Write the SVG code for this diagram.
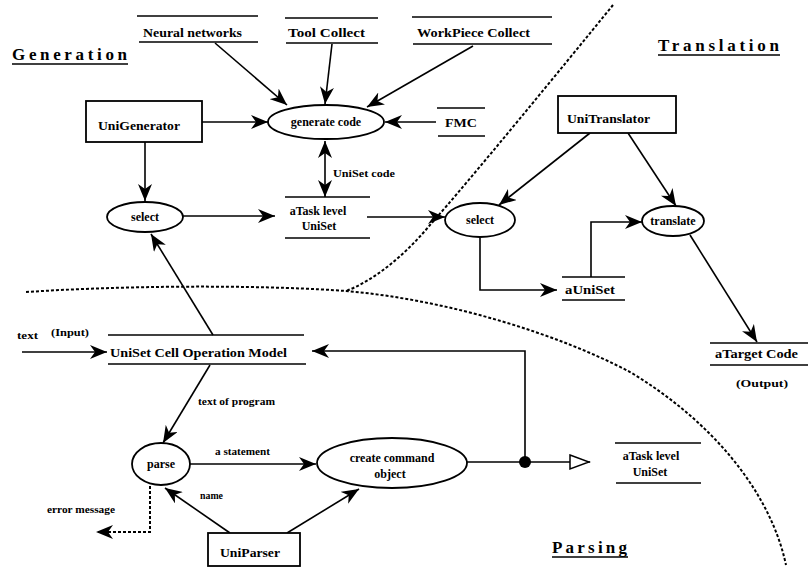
<svg xmlns="http://www.w3.org/2000/svg" width="812" height="569" viewBox="0 0 812 569">
  <style>
    .lbl { font-family: "Liberation Serif", "Times New Roman", serif; font-weight: bold; font-size: 12px; fill: #000; }
    .sm { font-family: "Liberation Serif", "Times New Roman", serif; font-weight: bold; font-size: 10px; fill: #000; }
    .title { font-family: "Liberation Serif", "Times New Roman", serif; font-weight: bold; font-size: 17px; fill: #000; letter-spacing: 1px; }
    .ln { stroke: #000; stroke-width: 1.6; fill: none; }
    .box { stroke: #000; stroke-width: 1.8; fill: #fff; }
    .proc { stroke: #000; stroke-width: 1.8; fill: #fff; }
    .store { stroke: #000; stroke-width: 1.6; }
    .arr { stroke: #000; stroke-width: 1.6; fill: none; marker-end: url(#ah); }
    .bound { stroke: #000; stroke-width: 2; fill: none; stroke-dasharray: 3 2; }
  </style>
  <defs>
    <marker id="ah" markerUnits="userSpaceOnUse" markerWidth="18" markerHeight="14" refX="17" refY="7" orient="auto-start-reverse">
      <path d="M0,0 L17,7 L0,14 L5,7 z" fill="#000"/>
    </marker>
    <marker id="hollow" markerUnits="userSpaceOnUse" markerWidth="22" markerHeight="18" refX="21" refY="9" orient="auto">
      <path d="M1,2 L20,9 L1,16 z" fill="#fff" stroke="#000" stroke-width="1.5"/>
    </marker>
  </defs>
  <rect width="812" height="569" fill="#fff"/>

  <!-- region boundaries -->
  <g id="boundaries">
    <path class="bound" d="M613,5 C560,70 470,180 430,225 C405,255 375,280 346,291"/>
    <path class="bound" d="M26,292 C150,284 280,286 346,291 C450,300 560,335 630,372 C710,420 770,490 786,565"/>
  </g>

  <!-- region titles -->
  <g id="titles">
    <text class="title" x="12" y="60" textLength="116">Generation</text>
    <line class="store" x1="12" y1="64" x2="128" y2="64"/>
    <text class="title" x="658" y="51" textLength="122">Translation</text>
    <line class="store" x1="658" y1="55" x2="780" y2="55"/>
    <text class="title" x="552" y="553" textLength="76">Parsing</text>
    <line class="store" x1="552" y1="557" x2="628" y2="557"/>
  </g>

  <!-- connectors -->
  <g id="connectors">
    <line class="arr" x1="215" y1="43" x2="287" y2="105"/>
    <line class="arr" x1="332" y1="44" x2="325" y2="104"/>
    <line class="arr" x1="473" y1="46" x2="367" y2="107"/>
    <line class="arr" x1="436" y1="122" x2="385" y2="122"/>
    <line class="arr" x1="202" y1="122" x2="268" y2="122"/>
    <line class="arr" x1="145" y1="142" x2="145" y2="201"/>
    <line class="ln" x1="325" y1="141" x2="325" y2="197" marker-start="url(#ah)" marker-end="url(#ah)"/>
    <line class="arr" x1="183" y1="216" x2="275" y2="216"/>
    <line class="arr" x1="367" y1="217" x2="445" y2="217"/>
    <line class="arr" x1="590" y1="133" x2="499" y2="205"/>
    <line class="arr" x1="628" y1="133" x2="676" y2="206"/>
    <polyline class="arr" points="480,238 480,290 557,290"/>
    <polyline class="arr" points="591,277 591,222 642,222"/>
    <line class="arr" x1="690" y1="235" x2="757" y2="342"/>
    <line class="arr" x1="22" y1="352" x2="107" y2="352"/>
    <line class="arr" x1="213" y1="335" x2="151" y2="234"/>
    <line class="arr" x1="210" y1="365" x2="163" y2="443"/>
    <polyline class="arr" points="525,462 525,351 312,351"/>
    <line class="arr" x1="190" y1="464" x2="316" y2="464"/>
    <line class="arr" x1="230" y1="533" x2="165" y2="488"/>
    <line class="arr" x1="287" y1="533" x2="359" y2="489"/>
    <polyline class="bound" points="150,486 150,532 96,532" stroke-width="1.6" stroke-dasharray="2 2" marker-end="url(#ah)"/>
    <line class="ln" x1="467" y1="462" x2="590" y2="462" marker-end="url(#hollow)"/>
    <circle cx="525" cy="462" r="6" fill="#000"/>
    <!-- connector labels -->
    <text class="sm" x="333" y="177" textLength="62" lengthAdjust="spacingAndGlyphs">UniSet code</text>
    <text class="sm" x="17" y="339" font-size="11" textLength="21" lengthAdjust="spacingAndGlyphs">text</text>
    <text class="sm" x="51" y="336" textLength="38" lengthAdjust="spacingAndGlyphs">(Input)</text>
    <text class="sm" x="198" y="405" textLength="77" lengthAdjust="spacingAndGlyphs">text of program</text>
    <text class="sm" x="215" y="455" textLength="55" lengthAdjust="spacingAndGlyphs">a statement</text>
    <text class="sm" x="200" y="499" textLength="23" lengthAdjust="spacingAndGlyphs">name</text>
    <text class="sm" x="47" y="513" textLength="68" lengthAdjust="spacingAndGlyphs">error message</text>
  </g>

  <!-- data stores -->
  <g id="neural-networks">
    <line class="store" x1="137" y1="16" x2="258" y2="16"/>
    <line class="store" x1="139" y1="42" x2="258" y2="42"/>
    <text class="lbl" x="143" y="37" textLength="99" lengthAdjust="spacingAndGlyphs">Neural networks</text>
  </g>
  <g id="tool-collect">
    <line class="store" x1="285" y1="18" x2="378" y2="18"/>
    <line class="store" x1="286" y1="43" x2="378" y2="43"/>
    <text class="lbl" x="288" y="37" textLength="77" lengthAdjust="spacingAndGlyphs">Tool Collect</text>
  </g>
  <g id="workpiece-collect">
    <line class="store" x1="412" y1="17" x2="552" y2="17"/>
    <line class="store" x1="413" y1="44" x2="552" y2="44"/>
    <text class="lbl" x="417" y="37" textLength="113" lengthAdjust="spacingAndGlyphs">WorkPiece Collect</text>
  </g>
  <g id="fmc">
    <line class="store" x1="437" y1="108" x2="485" y2="108"/>
    <line class="store" x1="438" y1="136" x2="485" y2="136"/>
    <text class="lbl" x="445" y="127" font-size="13" textLength="32" lengthAdjust="spacingAndGlyphs">FMC</text>
  </g>
  <g id="task-uniset-gen">
    <line class="store" x1="285" y1="197" x2="370" y2="197"/>
    <line class="store" x1="285" y1="238" x2="370" y2="238"/>
    <text class="lbl" x="318" y="215" text-anchor="middle" font-size="11">aTask level</text>
    <text class="lbl" x="319" y="230" text-anchor="middle" font-size="11">UniSet</text>
  </g>
  <g id="a-uniset">
    <line class="store" x1="562" y1="277" x2="625" y2="277"/>
    <line class="store" x1="562" y1="300" x2="625" y2="300"/>
    <text class="lbl" x="565" y="294" font-size="12" textLength="50" lengthAdjust="spacingAndGlyphs">aUniSet</text>
  </g>
  <g id="target-code">
    <line class="store" x1="710" y1="343" x2="808" y2="343"/>
    <line class="store" x1="710" y1="365" x2="808" y2="365"/>
    <text class="lbl" x="715" y="358" textLength="83" lengthAdjust="spacingAndGlyphs">aTarget Code</text>
    <text class="sm" x="736" y="387" textLength="52" lengthAdjust="spacingAndGlyphs">(Output)</text>
  </g>
  <g id="cell-operation-model">
    <line class="store" x1="108" y1="335" x2="304" y2="335"/>
    <line class="store" x1="108" y1="364" x2="306" y2="364"/>
    <text class="lbl" x="110" y="357" textLength="177" lengthAdjust="spacingAndGlyphs">UniSet Cell Operation Model</text>
  </g>
  <g id="task-uniset-parse">
    <line class="store" x1="615" y1="443" x2="701" y2="443"/>
    <line class="store" x1="616" y1="483" x2="701" y2="483"/>
    <text class="lbl" x="651" y="460" text-anchor="middle" font-size="11">aTask level</text>
    <text class="lbl" x="650" y="476" text-anchor="middle" font-size="11">UniSet</text>
  </g>

  <!-- objects -->
  <g id="unigenerator">
    <rect class="box" x="86" y="101" width="116" height="41"/>
    <text class="lbl" x="98" y="130" textLength="82" lengthAdjust="spacingAndGlyphs">UniGenerator</text>
  </g>
  <g id="unitranslator">
    <rect class="box" x="558" y="96" width="118" height="37"/>
    <text class="lbl" x="567" y="123" textLength="83" lengthAdjust="spacingAndGlyphs">UniTranslator</text>
  </g>
  <g id="uniparser">
    <rect class="box" x="208" y="533" width="92" height="33"/>
    <text class="lbl" x="220" y="557" textLength="60" lengthAdjust="spacingAndGlyphs">UniParser</text>
  </g>

  <!-- processes -->
  <g id="generate-code">
    <ellipse class="proc" cx="326" cy="122" rx="58" ry="17"/>
    <text class="lbl" x="326" y="126" text-anchor="middle" font-size="11">generate code</text>
  </g>
  <g id="select-gen">
    <ellipse class="proc" cx="145" cy="217" rx="38" ry="15"/>
    <text class="lbl" x="145" y="221" text-anchor="middle" font-size="11">select</text>
  </g>
  <g id="select-trans">
    <ellipse class="proc" cx="480" cy="220" rx="35" ry="17"/>
    <text class="lbl" x="480" y="224" text-anchor="middle" font-size="11">select</text>
  </g>
  <g id="translate">
    <ellipse class="proc" cx="673" cy="221" rx="31" ry="15"/>
    <text class="lbl" x="673" y="225" text-anchor="middle" font-size="11">translate</text>
  </g>
  <g id="parse">
    <ellipse class="proc" cx="161" cy="464" rx="29" ry="21"/>
    <text class="lbl" x="161" y="468" text-anchor="middle" font-size="11">parse</text>
  </g>
  <g id="create-command-object">
    <ellipse class="proc" cx="392" cy="463" rx="75" ry="25"/>
    <text class="lbl" x="392" y="462" text-anchor="middle" font-size="11">create command</text>
    <text class="lbl" x="390" y="478" text-anchor="middle" font-size="11">object</text>
  </g>
</svg>
